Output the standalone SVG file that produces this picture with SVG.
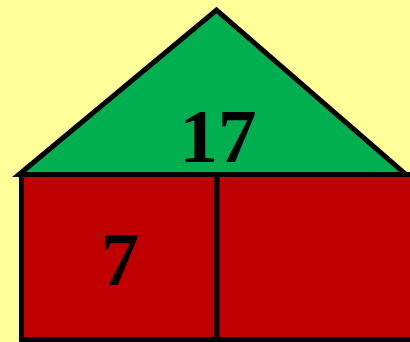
<svg xmlns="http://www.w3.org/2000/svg" width="410" height="342" viewBox="0 0 410 342">
<style>
.shape{stroke:#000;stroke-width:5;stroke-linejoin:miter}
.num{font-family:"Liberation Serif","Times New Roman",serif;font-weight:bold;font-size:77px;fill:#000;text-anchor:middle}
</style>
<rect x="0" y="0" width="410" height="342" fill="#FFFF99"/>
<g id="roof">
<polygon class="shape" points="19,174.5 216.5,10 406,174.5" fill="#00B050"/>
<text class="num" x="218" y="162">17</text>
</g>
<g id="left-box">
<rect class="shape" x="21.5" y="174.5" width="195.5" height="165" fill="#C00000"/>
<text class="num" x="120" y="285">7</text>
</g>
<g id="right-box">
<rect class="shape" x="217" y="174.5" width="196" height="165" fill="#C00000"/>
</g>
<g id="connectors"></g>
</svg>
